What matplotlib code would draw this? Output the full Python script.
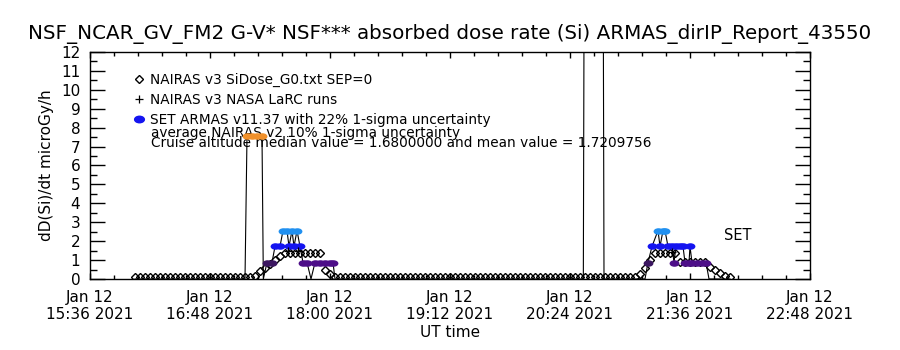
import numpy as np
import pandas as pd
import matplotlib
matplotlib.use("Agg")
import matplotlib.pyplot as plt
import matplotlib.dates as mdates
from matplotlib.path import Path
from matplotlib.transforms import Affine2D
from matplotlib.lines import Line2D
from matplotlib.ticker import MultipleLocator

DAY = "2021-01-12 "

# NAIRAS v3 SiDose_G0, one sample every 3 minutes starting 16:03
nairas_start = "16:03"
nairas_dose = [
    0.1, 0.1, 0.1, 0.1, 0.1, 0.1, 0.1, 0.1, 0.1, 0.1,
    0.1, 0.1, 0.1, 0.1, 0.1, 0.1, 0.1, 0.1, 0.1, 0.1,
    0.1, 0.1, 0.1, 0.1, 0.15, 0.4, 0.6, 0.8, 1.0, 1.2,
    1.35, 1.35, 1.35, 1.35, 1.35, 1.35, 1.35, 1.35, 0.45, 0.25,
    0.1, 0.1, 0.1, 0.1, 0.1, 0.1, 0.1, 0.1, 0.1, 0.1,
    0.1, 0.1, 0.1, 0.1, 0.1, 0.1, 0.1, 0.1, 0.1, 0.1,
    0.1, 0.1, 0.1, 0.1, 0.1, 0.1, 0.1, 0.1, 0.1, 0.1,
    0.1, 0.1, 0.1, 0.1, 0.1, 0.1, 0.1, 0.1, 0.1, 0.1,
    0.1, 0.1, 0.1, 0.1, 0.1, 0.1, 0.1, 0.1, 0.1, 0.1,
    0.1, 0.1, 0.1, 0.1, 0.1, 0.1, 0.1, 0.1, 0.1, 0.1,
    0.1, 0.25, 0.6, 1.0, 1.35, 1.38, 1.38, 1.38, 1.38, 0.92,
    0.92, 0.92, 0.92, 0.92, 0.92, 0.65, 0.45, 0.3, 0.15, 0.1,
]

# NAIRAS v3 NASA LaRC runs
larc_time = ["17:35:00", "17:41:00", "21:25:00"]
larc_dose = [1.5, 1.5, 1.45]

# SET ARMAS v11.37 dose rate, class = flight phase flag from the report
set_time = [
    "16:03:00", "17:09:00", "17:10:12", "17:13:12", "17:16:12", "17:19:12",
    "17:20:00", "17:22:12", "17:25:12", "17:27:00", "17:30:00", "17:31:48",
    "17:34:12", "17:35:24", "17:37:12", "17:38:24", "17:40:12", "17:42:00",
    "17:43:48", "17:46:12", "17:48:36", "17:51:00", "17:54:00", "17:57:00",
    "18:00:00", "18:01:48", "18:03:00",
    "20:32:00", "20:32:36", "20:43:48", "20:44:24",
    "21:09:00", "21:10:48", "21:13:12", "21:16:48", "21:18:00", "21:19:48",
    "21:21:00", "21:22:48", "21:25:12", "21:26:24", "21:27:36", "21:30:00",
    "21:31:48", "21:33:00", "21:35:24", "21:36:00", "21:37:12", "21:40:12",
    "21:43:12", "21:45:36", "21:47:24", "22:00:00",
]
set_dose = [
    0, 0, 7.55, 7.55, 7.55, 7.55,
    0, 0.87, 0.87, 1.72, 1.72, 2.56,
    2.56, 1.72, 2.56, 1.72, 2.56, 1.72,
    0.87, 0.87, 0, 0.87, 0.87, 0.87,
    0.87, 0.87, 0,
    0, 20, 20, 0,
    0, 0.87, 1.72, 2.56, 1.72, 2.56,
    2.56, 1.72, 1.72, 0.87, 1.72, 1.72,
    1.72, 0.87, 0.87, 1.72, 0.87, 0.87,
    0.87, 0.87, 0, 0,
]
set_class = [
    "z", "z", "o", "o", "o", "o",
    "z", "d", "d", "b", "b", "l",
    "l", "b", "l", "b", "l", "b",
    "p", "p", "z", "p", "p", "p",
    "p", "p", "z",
    "z", "s", "s", "z",
    "z", "d", "b", "l", "b", "l",
    "l", "b", "b", "p", "b", "b",
    "b", "p", "p", "b", "p", "p",
    "p", "p", "z", "z",
]

class_colors = {"o": "#f0902a", "d": "#3b1660", "b": "#1414f0",
                "l": "#2090f0", "p": "#4d0e88"}

legend_labels = ["NAIRAS v3 SiDose_G0.txt SEP=0",
                 "NAIRAS v3 NASA LaRC runs",
                 "SET ARMAS v11.37 with 22% 1-sigma uncertainty"]
note_lines = ["average NAIRAS v2 10% 1-sigma uncertainty",
              "Cruise altitude median value = 1.6800000 and mean value = 1.7209756"]
title = "NSF_NCAR_GV_FM2 G-V* NSF*** absorbed dose rate (Si) ARMAS_dirIP_Report_43550"

nairas_t = pd.date_range(DAY + nairas_start, periods=len(nairas_dose), freq="3min")
larc_t = pd.to_datetime([DAY + t for t in larc_time])
set_t = pd.to_datetime([DAY + t for t in set_time])
set_dose = np.array(set_dose, dtype=float)

oval = Affine2D().scale(1.5, 1.0).transform_path(Path.unit_circle())

fig = plt.figure(figsize=(9, 3.5), dpi=100)
ax = fig.add_axes([0.1, 0.2029, 0.8, 0.6486])

ax.plot(set_t, set_dose, color="k", lw=0.8, zorder=2)
ax.plot(nairas_t, nairas_dose, ls="none", marker="D", ms=4, mfc="none",
        mec="k", mew=1.0, zorder=3)
for c, col in class_colors.items():
    sel = np.array([k == c for k in set_class])
    ax.scatter(set_t[sel], set_dose[sel], marker=oval, s=50, color=col,
               lw=0, zorder=4)
ax.plot(larc_t, larc_dose, ls="none", marker="+", ms=6, mew=0.9, color="k",
        zorder=5)

ax.set_xlim(pd.Timestamp(DAY + "15:36"), pd.Timestamp(DAY + "22:48"))
ax.set_ylim(0, 12)
ax.xaxis.set_major_locator(MultipleLocator(0.05))
ax.xaxis.set_minor_locator(MultipleLocator(0.01))
ax.xaxis.set_major_formatter(mdates.DateFormatter("%b %d\n%H:%M %Y"))
ax.yaxis.set_major_locator(MultipleLocator(1))
ax.yaxis.set_minor_locator(MultipleLocator(0.5))

ax.tick_params(axis="both", which="both", direction="in", top=True, right=True,
               labelsize=11, width=1)
ax.tick_params(axis="x", which="major", length=4.5, pad=8)
ax.tick_params(axis="x", which="minor", length=3)
ax.tick_params(axis="y", which="major", length=10.5, pad=7)
ax.tick_params(axis="y", which="minor", length=5)
for lab in ax.get_xticklabels():
    lab.set_linespacing(1.15)
for s in ax.spines.values():
    s.set_linewidth(1)

ax.set_title(title, fontsize=14.3, pad=9)
ax.set_xlabel("UT time", fontsize=11, labelpad=2)
ax.set_ylabel("dD(Si)/dt microGy/h", fontsize=11, labelpad=5)

handles = [
    Line2D([], [], ls="none", marker="D", ms=4, mfc="none", mec="k", mew=1.0),
    Line2D([], [], ls="none", marker="+", ms=6, mew=0.9, color="k"),
    Line2D([], [], ls="none", marker=oval, ms=7, color="#1414f0"),
]
ax.legend(handles, legend_labels, loc="upper left", bbox_to_anchor=(0.063, 0.908),
          frameon=False, fontsize=9.8, handlelength=0.6, handletextpad=0.5,
          labelspacing=0.43, borderpad=0, borderaxespad=0)
ax.text(0.085, 0.645, note_lines[0], transform=ax.transAxes, fontsize=9.8,
        va="center", ha="left")
ax.text(0.085, 0.600, note_lines[1], transform=ax.transAxes, fontsize=9.8,
        va="center", ha="left")
ax.text(0.88, 0.19, "SET", transform=ax.transAxes, fontsize=10.5,
        va="center", ha="left")

fig.savefig("out.png", dpi=100)
